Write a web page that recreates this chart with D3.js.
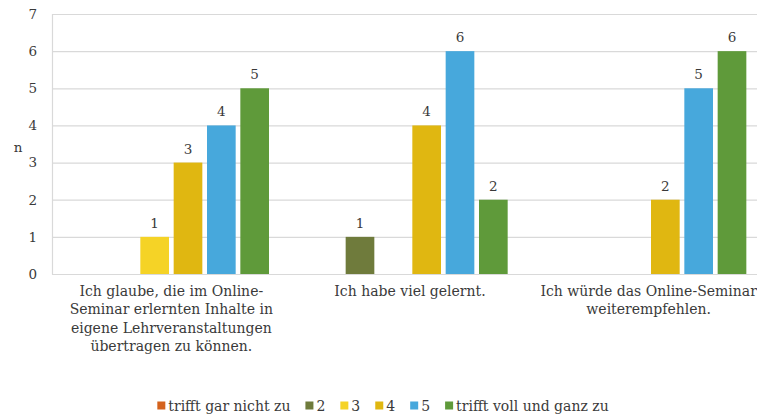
<!DOCTYPE html>
<html><head><meta charset="utf-8">
<script src="https://cdn.jsdelivr.net/npm/d3@7"></script>
<style>body{margin:0;background:#fff;overflow:hidden}svg{display:block}</style>
</head><body>
<svg id="c" width="757" height="416"></svg>
<script>
const categories = [
  ["Ich glaube, die im Online-","Seminar erlernten Inhalte in","eigene Lehrveranstaltungen","übertragen zu können."],
  ["Ich habe viel gelernt."],
  ["Ich würde das Online-Seminar","weiterempfehlen."]
];
const seriesNames = ["trifft gar nicht zu","2","3","4","5","trifft voll und ganz zu"];
const seriesColors = ["#d4621d","#6f7b3c","#f5d326","#e0b711","#47a8dc","#5f9a3a"];
const s1 = [0,0,0];
const s2 = [0,1,0];
const s3 = [1,0,0];
const s4 = [3,4,2];
const s5 = [4,6,5];
const s6 = [5,2,6];
const seriesValues = [s1,s2,s3,s4,s5,s6];
const yTicks = [0,1,2,3,4,5,6,7];

const font = "DejaVu Serif";
const txt = "#3a3a3a";
const svg = d3.select("#c");
const L = 52, R = 768, T = 14, B = 274;

const x0 = d3.scaleBand().domain(d3.range(categories.length)).range([L, R]);
const bw = x0.bandwidth();
const x1 = d3.scaleBand().domain(d3.range(seriesNames.length))
  .range([bw*0.081, bw*0.919]).paddingInner(0.14).paddingOuter(0.07);
const y = d3.scaleLinear().domain([0,7]).range([B, T]);

svg.append("defs").append("clipPath").attr("id","clp")
  .append("rect").attr("x",0).attr("y",0).attr("width",757).attr("height",416);

const g = svg.append("g").attr("clip-path","url(#clp)");

g.selectAll(".grid").data(yTicks).enter().append("line")
  .attr("x1", L).attr("x2", R).attr("y1", d=>y(d)+0.5).attr("y2", d=>y(d)+0.5)
  .attr("stroke", "#d9d9d9").attr("stroke-width", 1.2);
g.append("line").attr("x1", L+0.5).attr("x2", L+0.5).attr("y1", y(7)).attr("y2", y(0)+0.5)
  .attr("stroke", "#d9d9d9").attr("stroke-width", 1.2);

const yAxis = d3.axisLeft(y).tickValues(yTicks).tickSize(0).tickPadding(15).tickFormat(d3.format("d"));
const ya = svg.append("g").attr("transform", `translate(${L},0)`).call(yAxis);
ya.select(".domain").remove();
ya.selectAll("text").attr("font-family", font).attr("font-size", 13.5).attr("fill", txt);

svg.append("text").attr("x", 18).attr("y", 147).attr("dy","0.35em").attr("text-anchor","middle")
  .attr("font-family", font).attr("font-size", 13.5).attr("fill", txt).text("n");

const flat = [];
seriesValues.forEach((arr, si) => arr.forEach((v, ci) => flat.push({si, ci, v})));
const bars = flat.filter(d => d.v > 0);
g.selectAll(".bar").data(bars).enter().append("rect")
  .attr("x", d => x0(d.ci) + x1(d.si))
  .attr("width", x1.bandwidth())
  .attr("y", d => y(d.v))
  .attr("height", d => y(0) - y(d.v))
  .attr("fill", d => seriesColors[d.si]);

g.selectAll(".lbl").data(bars).enter().append("text")
  .attr("x", d => x0(d.ci) + x1(d.si) + x1.bandwidth()/2)
  .attr("y", d => y(d.v) - 9)
  .attr("text-anchor","middle")
  .attr("font-family", font).attr("font-size", 13.5).attr("fill", txt)
  .text(d => d.v);

categories.forEach((lines, ci) => {
  const t = svg.append("text").attr("text-anchor","middle")
    .attr("font-family", font).attr("font-size", 14).attr("fill", txt);
  lines.forEach((ln, li) => {
    t.append("tspan").attr("x", x0(ci) + bw/2).attr("y", 296 + li*18.3).text(ln);
  });
});

const leg = svg.append("g");
let cx = 0;
const gap = 15;
seriesNames.forEach((n, i) => {
  const it = leg.append("g");
  it.append("rect").attr("x", cx).attr("y", -4.5).attr("width", 8).attr("height", 8).attr("fill", seriesColors[i]);
  const tt = it.append("text").attr("x", cx + 11).attr("y", 0).attr("dy","0.35em")
    .attr("font-family", font).attr("font-size", 14).attr("fill", txt).text(n);
  cx += 11 + tt.node().getComputedTextLength() + gap;
});
const totalW = cx - gap;
leg.attr("transform", `translate(${383 - totalW/2},406)`);
</script>
</body></html>
